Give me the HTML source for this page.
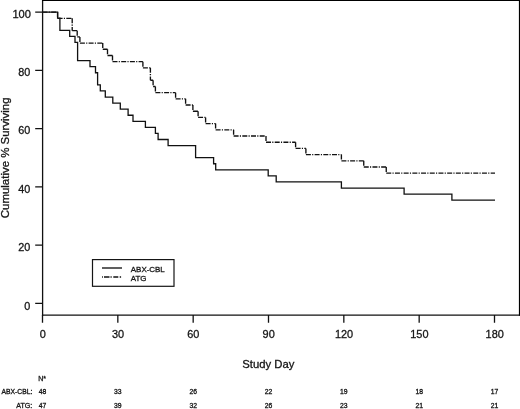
<!DOCTYPE html>
<html><head><meta charset="utf-8"><title>Survival</title>
<style>
html,body{margin:0;padding:0;background:#fff;}
body{width:520px;height:409px;overflow:hidden;}
svg{display:block;will-change:transform;filter:grayscale(1);}
text{font-family:"Liberation Sans",sans-serif;fill:#151515;stroke:#151515;stroke-width:0.3px;}
</style></head><body>
<svg width="520" height="409" viewBox="0 0 520 409">
<rect x="0" y="0" width="520" height="409" fill="#fff"/>
<path d="M42.6 0 V315.8" fill="none" stroke="#111" stroke-width="1.3"/>
<path d="M42 315.2 H520" fill="none" stroke="#111" stroke-width="1.2"/>
<path d="M519.45 0 V315.7" fill="none" stroke="#000" stroke-width="1.1"/>
<path d="M42 0.5 H520" fill="none" stroke="#000" stroke-width="1"/>
<path d="M35.2 303.30 H42.6 M35.2 245.06 H42.6 M35.2 186.82 H42.6 M35.2 128.58 H42.6 M35.2 70.34 H42.6 M35.2 12.10 H42.6 M42.50 315 V322.8 M117.83 315 V322.8 M193.17 315 V322.8 M268.50 315 V322.8 M343.83 315 V322.8 M419.17 315 V322.8 M494.50 315 V322.8 " fill="none" stroke="#111" stroke-width="1.3"/>
<text transform="translate(31.0 17.65) scale(0.985 1)" font-size="11.3" stroke-width="0.45" text-anchor="end">100</text>
<text transform="translate(30.4 75.66) scale(0.96 1)" font-size="11.3" stroke-width="0.45" text-anchor="end">80</text>
<text transform="translate(30.4 134.12) scale(0.96 1)" font-size="11.3" stroke-width="0.45" text-anchor="end">60</text>
<text transform="translate(30.4 192.58) scale(0.96 1)" font-size="11.3" stroke-width="0.45" text-anchor="end">40</text>
<text transform="translate(30.4 251.04) scale(0.96 1)" font-size="11.3" stroke-width="0.45" text-anchor="end">20</text>
<text transform="translate(30.4 309.50) scale(0.96 1)" font-size="11.3" stroke-width="0.45" text-anchor="end">0</text>
<text transform="translate(42.70 337.6) scale(0.97 1)" font-size="11.3" stroke-width="0.45" text-anchor="middle">0</text>
<text transform="translate(118.03 337.6) scale(0.97 1)" font-size="11.3" stroke-width="0.45" text-anchor="middle">30</text>
<text transform="translate(193.37 337.6) scale(0.97 1)" font-size="11.3" stroke-width="0.45" text-anchor="middle">60</text>
<text transform="translate(268.70 337.6) scale(0.97 1)" font-size="11.3" stroke-width="0.45" text-anchor="middle">90</text>
<text transform="translate(344.03 337.6) scale(0.97 1)" font-size="11.3" stroke-width="0.45" text-anchor="middle">120</text>
<text transform="translate(419.37 337.6) scale(0.97 1)" font-size="11.3" stroke-width="0.45" text-anchor="middle">150</text>
<text transform="translate(494.70 337.6) scale(0.97 1)" font-size="11.3" stroke-width="0.45" text-anchor="middle">180</text>
<text x="268.3" y="367.8" font-size="11.3" stroke-width="0.4" text-anchor="middle">Study Day</text>
<text transform="translate(8.5 157.8) rotate(-90)" font-size="11.45" stroke-width="0.4" text-anchor="middle">Cumulative % Surviving</text>
<path d="M42.50 12.10 H57.60 M57.60 12.10 V18.30 M57.60 18.30 H72.20 M72.20 18.30 V30.69 M72.20 30.69 H77.20 M77.20 30.69 V36.88 M77.20 36.88 H79.90 M79.90 36.88 V43.08 M79.90 43.08 H102.75 M102.75 43.08 V49.27 M102.75 49.27 H107.50 M107.50 49.27 V55.47 M107.50 55.47 H112.50 M112.50 55.47 V61.67 M112.50 61.67 H142.90 M142.90 61.67 V67.86 M142.90 67.86 H150.40 M150.40 67.86 V80.25 M150.40 80.25 H153.10 M153.10 80.25 V86.45 M153.10 86.45 H155.40 M155.40 86.45 V92.64 M155.40 92.64 H175.60 M175.60 92.64 V98.84 M175.60 98.84 H185.60 M185.60 98.84 V105.04 M185.60 105.04 H192.90 M192.90 105.04 V111.23 M192.90 111.23 H198.10 M198.10 111.23 V117.43 M198.10 117.43 H205.60 M205.60 117.43 V123.62 M205.60 123.62 H215.60 M215.60 123.62 V129.82 M215.60 129.82 H233.60 M233.60 129.82 V136.01 M233.60 136.01 H266.00 M266.00 136.01 V142.21 M266.00 142.21 H295.60 M295.60 142.21 V148.41 M295.60 148.41 H305.90 M305.90 148.41 V154.60 M305.90 154.60 H341.40 M341.40 154.60 V160.80 M341.40 160.80 H363.75 M363.75 160.80 V166.99 M363.75 166.99 H386.25 M386.25 166.99 V173.19 M386.25 173.19 H495.00" fill="none" stroke="#111" stroke-width="1.35" stroke-dasharray="5 1.25 1.15 1.3" stroke-dashoffset="0"/>
<path d="M42.50 12.10 H57.60 V18.17 H59.90 V30.30 H69.70 V36.37 H75.00 V42.43 H77.60 V60.63 H90.00 V66.70 H95.50 V72.77 H97.60 V84.90 H100.30 V90.97 H105.30 V97.03 H112.80 V103.10 H120.30 V109.17 H128.10 V115.23 H133.00 V121.30 H145.40 V127.37 H155.40 V133.43 H158.10 V139.50 H168.10 V145.57 H195.60 V157.70 H213.60 V163.77 H215.70 V169.83 H268.20 V175.90 H276.20 V181.97 H341.40 V188.03 H404.10 V194.10 H451.90 V200.17 H495.00" fill="none" stroke="#111" stroke-width="1.3"/>
<rect x="92.5" y="259.6" width="81.5" height="26.7" fill="#fff" stroke="#151515" stroke-width="1.2"/>
<path d="M102 268 H122" stroke="#1a1a1a" stroke-width="1.4" fill="none"/>
<path d="M102 277.1 H102.9 M104 277.1 H109.5 M110.5 277.1 H111.7 M113.3 277.1 H118.3 M119.7 277.1 H121.1" stroke="#111" stroke-width="1.5" fill="none"/>
<text x="130.8" y="271.8" font-size="7.95" stroke-width="0.05">ABX-CBL</text>
<text x="130.8" y="280.9" font-size="7.95" stroke-width="0.05">ATG</text>
<text x="42.2" y="380.6" font-size="7" stroke-width="0.1" text-anchor="middle">N*</text>
<text x="32.3" y="394.25" font-size="6.75" stroke-width="0.1" text-anchor="end">ABX-CBL:</text>
<text x="32.3" y="408.3" font-size="7.1" stroke-width="0.1" text-anchor="end">ATG:</text>
<text x="42.50" y="394.25" font-size="6.8" stroke-width="0.1" text-anchor="middle">48</text>
<text x="42.50" y="408.3" font-size="6.8" stroke-width="0.1" text-anchor="middle">47</text>
<text x="117.83" y="394.25" font-size="6.8" stroke-width="0.1" text-anchor="middle">33</text>
<text x="117.83" y="408.3" font-size="6.8" stroke-width="0.1" text-anchor="middle">39</text>
<text x="193.17" y="394.25" font-size="6.8" stroke-width="0.1" text-anchor="middle">26</text>
<text x="193.17" y="408.3" font-size="6.8" stroke-width="0.1" text-anchor="middle">32</text>
<text x="268.50" y="394.25" font-size="6.8" stroke-width="0.1" text-anchor="middle">22</text>
<text x="268.50" y="408.3" font-size="6.8" stroke-width="0.1" text-anchor="middle">26</text>
<text x="343.83" y="394.25" font-size="6.8" stroke-width="0.1" text-anchor="middle">19</text>
<text x="343.83" y="408.3" font-size="6.8" stroke-width="0.1" text-anchor="middle">23</text>
<text x="419.17" y="394.25" font-size="6.8" stroke-width="0.1" text-anchor="middle">18</text>
<text x="419.17" y="408.3" font-size="6.8" stroke-width="0.1" text-anchor="middle">21</text>
<text x="494.50" y="394.25" font-size="6.8" stroke-width="0.1" text-anchor="middle">17</text>
<text x="494.50" y="408.3" font-size="6.8" stroke-width="0.1" text-anchor="middle">21</text>
</svg>
</body></html>
